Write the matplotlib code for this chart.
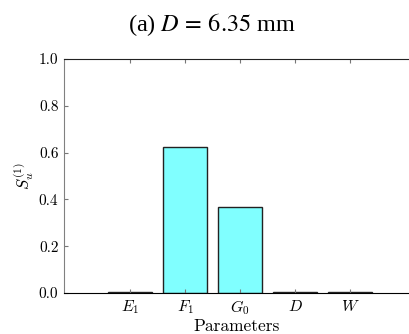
import matplotlib
matplotlib.use("Agg")
import matplotlib.pyplot as plt

params = ["$E_1$", "$F_1$", "$G_0$", "$D$", "$W$"]
s_u1 = [0.004, 0.624, 0.368, 0.004, 0.003]

plt.rcParams['mathtext.fontset'] = 'cm'
plt.rcParams['axes.formatter.use_mathtext'] = True

fig = plt.figure(figsize=(4.09, 3.34), dpi=100)
ax = fig.add_axes([64 / 409, 1 - 293 / 334, 1 - 64 / 409, (293 - 59) / 334])

x = range(len(params))
ax.bar(x, s_u1, 0.8, color="#80ffff", edgecolor="#222222", linewidth=1.0)

ax.set_xlim(-1.2, 5.07)
ax.set_ylim(0, 1.0)
ax.set_xticks(list(x))
ax.set_xticklabels(params, fontsize=11.5)
ax.set_yticks([0.0, 0.2, 0.4, 0.6, 0.8, 1.0])
ax.set_yticklabels(["0.0", "0.2", "0.4", "0.6", "0.8", "1.0"], family="cmr10", fontsize=11)
ax.tick_params(direction="in", top=True, right=False, length=3, color="#777777", pad=4)

ax.spines['right'].set_visible(False)
ax.spines['left'].set_color("#808080")
ax.spines['bottom'].set_color("black")
ax.spines['top'].set_color("#222222")

ax.set_ylabel(r"$S_u^{(1)}$", fontsize=12, labelpad=2)
ax.set_xlabel("Parameters", family="cmr10", fontsize=12.5, labelpad=1)

fig.text(212 / 409, 1 - 25 / 334, r"(a) $D\,=\,6.35$ mm", ha="center", va="center",
         family="Liberation Serif", math_fontfamily="stix", fontsize=17.5)

fig.savefig("out.png", dpi=100)
